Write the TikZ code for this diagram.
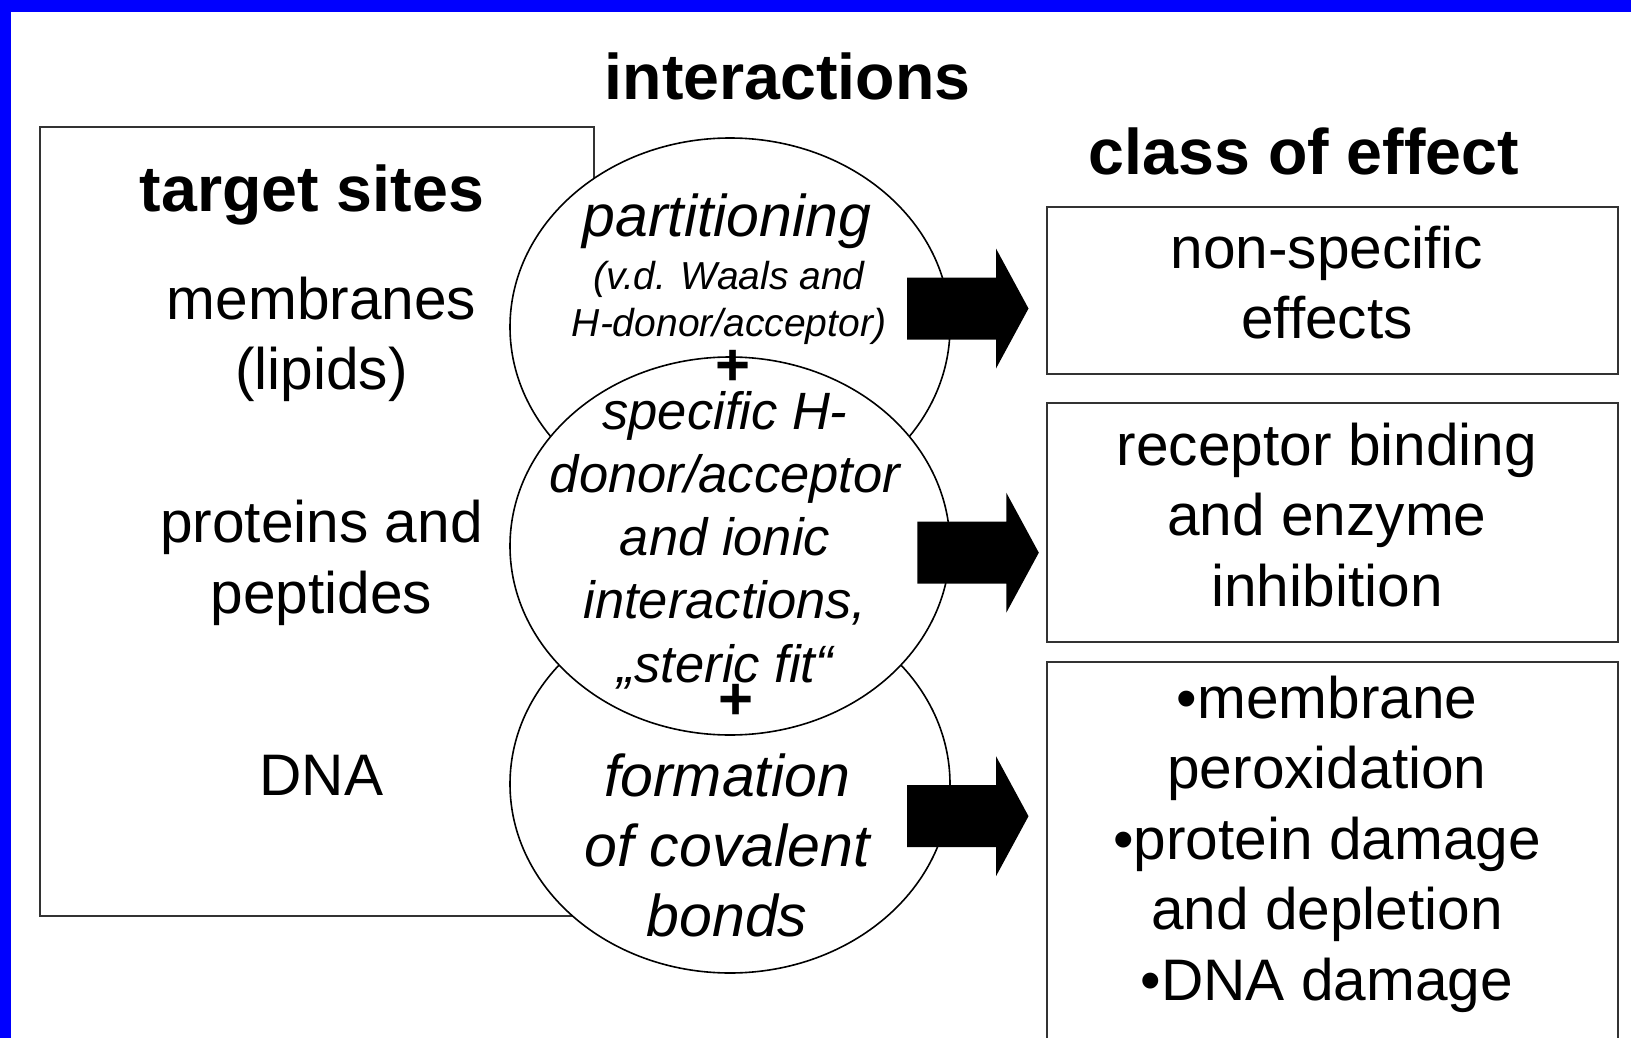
\documentclass[tikz,border=0pt]{standalone}
\usepackage{fontspec}
\setmainfont{Liberation Sans}
\usetikzlibrary{shapes.geometric}
\tikzset{
  lbl/.style={inner sep=0pt, align=center, font=\fontsize{58.6}{70.5}\selectfont},
  hdr/.style={inner sep=0pt, align=center, font=\fontsize{64.5}{75}\selectfont\bfseries},
  itl/.style={inner sep=0pt, align=center, font=\fontsize{59}{70}\selectfont\itshape},
  itmid/.style={inner sep=0pt, align=center, font=\fontsize{52.5}{63.2}\selectfont\itshape},
  itsmall/.style={inner sep=0pt, align=center, font=\fontsize{39}{47}\selectfont\itshape},
  plussign/.style={inner sep=0pt, font=\fontsize{60}{60}\selectfont\bfseries},
  oval/.style={ellipse, draw=black, line width=1.6pt, fill=white, minimum width=440pt, minimum height=378pt, inner sep=0pt},
  frame/.style={rectangle, draw=black!80, line width=2pt, inner sep=0pt},
  blockarrow/.style={fill=black},
}
\newcommand{\myblockarrow}[2]{%
  \fill[blockarrow] (#1,#2-31) -- (#1+89,#2-31) -- (#1+89,#2-60) -- (#1+121.5,#2) -- (#1+89,#2+60) -- (#1+89,#2+31) -- (#1,#2+31) -- cycle;}
\begin{document}
\begin{tikzpicture}[x=1pt,y=-1pt]
\useasboundingbox (0,0) rectangle (1631,1038);
\clip (0,0) rectangle (1631,1038);
\fill[white] (0,0) rectangle (1631,1038);
% blue frame
\fill[blue] (0,0) rectangle (1631,12);
\fill[blue] (0,0) rectangle (11,1038);

% titles
\node[hdr] (title) at (787.5,76) {interactions};
\node[hdr] (classhdr) at (1304,151) {class of effect};

% left box
\node[frame, minimum width=554pt, minimum height=789pt] (leftbox) at (317,521.5) {};
\node[hdr] (target) at (312,195) {target sites};
\node[lbl] (membr) at (321.5,339.5) {membranes\\(lipids)};
\node[lbl] (prot) at (321.5,563) {proteins and\\peptides};
\node[lbl] (dna) at (321.5,775) {DNA};

% ellipses
\node[oval] (ebot) at (730,784) {};
\node[oval] (etop) at (730,327) {};
\node[oval] (emid) at (730,546) {};

% ellipse texts
\node[itl] (part) at (727,221) {partitioning};
\node[itsmall] (vdw) at (729,303) {(v.d. Waals and\\H-donor/acceptor)};
\node[plussign] (plus1) at (733,368) {+};
\node[itmid] (midtext) at (725,540) {specific H-\\donor/acceptor\\and ionic\\interactions,\\„steric fit“};
\node[plussign] (plus2) at (736,702) {+};
\node[itl] (bottext) at (727,845) {formation\\of covalent\\bonds};

% block arrows
\myblockarrow{907}{308.5}
\myblockarrow{917.3}{552.7}
\myblockarrow{907}{816.2}

% right boxes
\node[frame, minimum width=571pt, minimum height=167pt] (box1) at (1332,290.5) {};
\node[frame, minimum width=571pt, minimum height=239.7pt] (box2) at (1332,522.5) {};
\node[frame, minimum width=571pt, minimum height=438pt] (box3) at (1332,881) {};
\node[lbl] (t1) at (1327,282.5) {non-specific\\effects};
\node[lbl] (t2) at (1327,515) {receptor binding\\and enzyme\\inhibition};
\node[lbl] (t3) at (1327,844) {•membrane\\peroxidation\\•protein damage\\and depletion\\•DNA damage};
\end{tikzpicture}
\end{document}
